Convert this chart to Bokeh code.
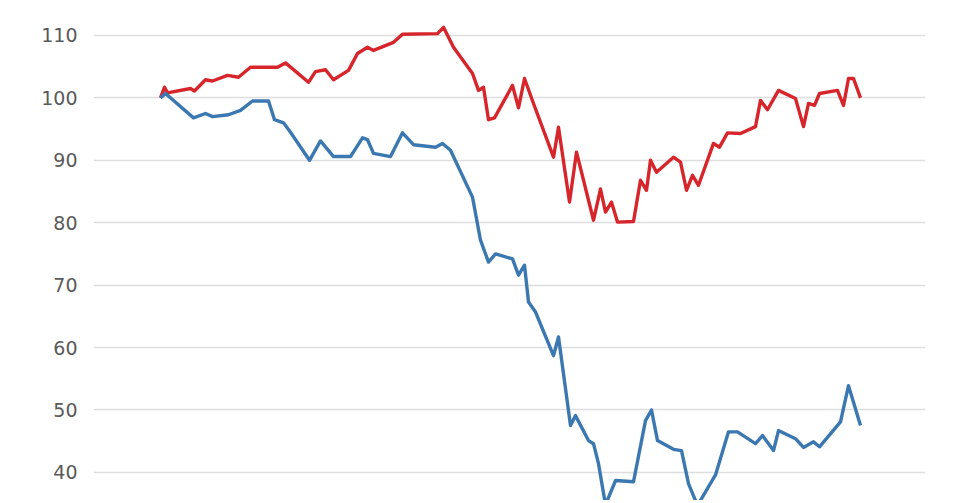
from bokeh.plotting import figure
from bokeh.models import FixedTicker, Range1d
from bokeh.embed import file_html
from bokeh.resources import INLINE

# Day index (days since start) and index values (start = 100)
red_day = [0, 4, 7, 30, 34, 45, 52, 67, 78, 90, 117, 125, 148, 155, 165, 173, 188, 197,
           207, 213, 233, 242, 277, 283, 293, 312, 318, 323, 328, 334, 352, 358, 364, 373,
           393, 398, 409, 416, 433, 440, 445, 451, 457, 473, 480, 486, 490, 496, 513,
           520, 526, 532, 538, 553, 559, 567, 580, 595, 600, 607, 618, 635, 643, 648, 654,
           659, 677, 683, 688, 693, 700]
red_val = [100.0, 101.7, 100.8, 101.5, 101.1, 102.9, 102.7, 103.6, 103.3, 104.9, 104.9, 105.6,
           102.5, 104.2, 104.5, 102.9, 104.4, 107.1, 108.1, 107.6, 108.9, 110.2, 110.3, 111.3,
           108.1, 103.9, 101.2, 101.7, 96.5, 96.8, 102.0, 98.4, 103.1, 99.1,
           90.5, 95.3, 83.3, 91.3, 80.4, 85.4, 81.7, 83.3, 80.1, 80.2, 86.8, 85.2, 90.0, 88.1,
           90.5, 89.7, 85.2, 87.6, 86.0, 92.7, 92.1, 94.4, 94.3, 95.4, 99.6, 98.1, 101.2, 99.9,
           95.4, 99.1, 98.8, 100.7, 101.2, 98.8, 103.1, 103.1, 100.0]

blue_day = [0, 5, 33, 45, 52, 68, 80, 92, 108, 114, 123, 130, 149, 160, 173, 190, 202, 207,
            213, 230, 242, 253, 275, 282, 290, 312, 320, 328, 335, 352, 358, 364, 368, 375,
            393, 398, 410, 415, 428, 433, 438, 445, 455, 473, 485, 491, 497, 513, 521, 528,
            537, 555, 568, 577, 595, 602, 613, 618, 635, 643, 653, 659, 680, 688, 700]
blue_val = [100.0, 100.7, 96.8, 97.5, 97.0, 97.3, 98.0, 99.5, 99.5, 96.5, 96.0, 94.5, 90.0,
            93.1, 90.6, 90.6, 93.6, 93.3, 91.1, 90.6, 94.4, 92.5, 92.1, 92.7, 91.6, 84.1, 77.2,
            73.7, 75.0, 74.2, 71.6, 73.2, 67.3, 65.7, 58.7, 61.7, 47.5, 49.1, 45.1, 44.6, 41.4,
            34.8, 38.7, 38.5, 48.3, 50.0, 45.1, 43.7, 43.5, 38.2, 34.7, 39.6, 46.5, 46.5, 44.6,
            45.9, 43.5, 46.7, 45.4, 44.0, 44.9, 44.1, 48.1, 53.9, 47.5]

y_ticks = [40, 50, 60, 70, 80, 90, 100, 110]
tick_labels = {t: str(t) for t in y_ticks}

p = figure(width=946, height=500, output_backend="svg", toolbar_location=None,
           x_range=Range1d(-67, 765), y_range=Range1d(35.5, 115.6),
           min_border_left=93, min_border_right=21, min_border_top=0, min_border_bottom=0)

p.line(x=red_day, y=red_val, line_color="#d7262b", line_width=3.4, line_join="round")
p.line(x=blue_day, y=blue_val, line_color="#3b78b1", line_width=3.4, line_join="round")

p.xaxis.visible = False
p.xgrid.grid_line_color = None
p.ygrid.grid_line_color = "#dedede"
p.ygrid.grid_line_width = 1.5
p.outline_line_color = None

ax = p.yaxis[0]
ax.ticker = FixedTicker(ticks=y_ticks)
ax.major_label_overrides = tick_labels
ax.axis_line_color = None
ax.major_tick_line_color = None
ax.minor_tick_line_color = None
ax.major_tick_out = 0
ax.major_label_standoff = 16
ax.major_label_text_font = "DejaVu Sans"
ax.major_label_text_font_size = "19px"
ax.major_label_text_color = "#5a5a5a"
p.ygrid.ticker = FixedTicker(ticks=y_ticks)

open("out.html", "w").write(file_html(p, INLINE))
